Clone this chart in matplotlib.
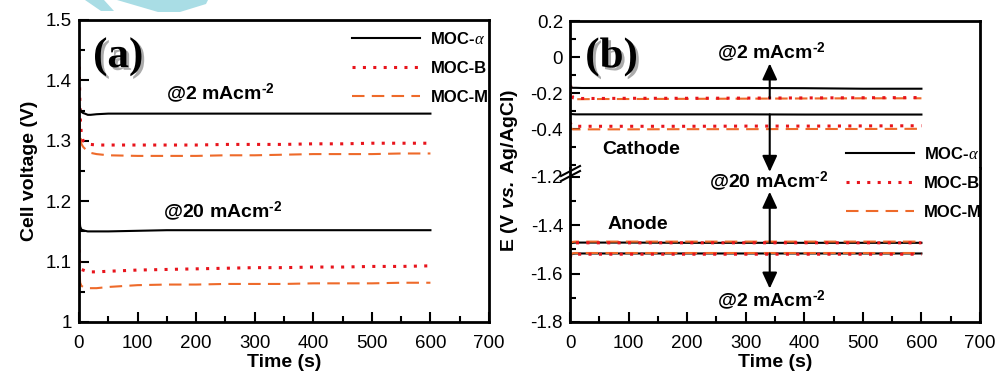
import matplotlib
matplotlib.use('Agg')
import matplotlib.pyplot as plt
import matplotlib.patheffects as pe
from matplotlib.patches import Polygon
from matplotlib.lines import Line2D
from matplotlib.ticker import MultipleLocator

plt.rcParams['font.family'] = ['Liberation Sans', 'DejaVu Sans']
plt.rcParams['mathtext.fontset'] = 'custom'
plt.rcParams['mathtext.rm'] = 'Liberation Sans'
plt.rcParams['mathtext.bf'] = 'Liberation Sans:bold'
plt.rcParams['mathtext.it'] = 'Liberation Serif:italic'
plt.rcParams['mathtext.bfit'] = 'Liberation Sans:bold:italic'

# ---- data ----
# panel (a): cell voltage
time_a = [0, 1, 2, 4, 7, 10, 15, 20, 30, 50, 100, 150, 200, 250, 300, 350, 400, 450, 500, 550, 600]
alpha_2 = [1.360, 1.357, 1.352, 1.348, 1.346, 1.345, 1.343, 1.343, 1.344, 1.345, 1.345, 1.345, 1.345,
           1.345, 1.345, 1.345, 1.345, 1.345, 1.345, 1.345, 1.345]
b_2 = [1.440, 1.390, 1.340, 1.310, 1.300, 1.298, 1.296, 1.294, 1.293, 1.293, 1.293, 1.293, 1.293,
       1.294, 1.294, 1.294, 1.295, 1.295, 1.296, 1.296, 1.296]
m_2 = [1.370, 1.340, 1.310, 1.295, 1.290, 1.287, 1.283, 1.280, 1.278, 1.276, 1.275, 1.275, 1.275,
       1.276, 1.276, 1.277, 1.278, 1.278, 1.278, 1.279, 1.279]
alpha_20 = [1.200, 1.170, 1.158, 1.153, 1.152, 1.151, 1.150, 1.150, 1.150, 1.150, 1.151, 1.152, 1.152,
            1.152, 1.152, 1.152, 1.152, 1.152, 1.152, 1.152, 1.152]
b_20 = [1.120, 1.100, 1.090, 1.087, 1.086, 1.085, 1.084, 1.083, 1.083, 1.084, 1.086, 1.087, 1.088,
        1.089, 1.090, 1.090, 1.091, 1.091, 1.092, 1.092, 1.093]
m_20 = [1.110, 1.080, 1.065, 1.060, 1.058, 1.057, 1.056, 1.056, 1.056, 1.058, 1.061, 1.062, 1.062,
        1.063, 1.063, 1.063, 1.064, 1.064, 1.064, 1.065, 1.065]

# panel (b): electrode potentials
time_b = [0, 2, 5, 10, 20, 50, 100, 200, 300, 400, 500, 600]
cat_alpha_2 = [-0.165, -0.168, -0.170, -0.170, -0.171, -0.171, -0.171, -0.171, -0.171, -0.172, -0.175, -0.175]
cat_b_2 = [-0.100, -0.200, -0.225, -0.228, -0.229, -0.229, -0.228, -0.228, -0.227, -0.226, -0.225, -0.224]
cat_m_2 = [-0.150, -0.220, -0.232, -0.233, -0.233, -0.232, -0.232, -0.231, -0.230, -0.229, -0.228, -0.228]
cat_alpha_20 = [-0.310, -0.315, -0.316, -0.317, -0.317, -0.317, -0.317, -0.317, -0.317, -0.318, -0.318, -0.318]
cat_b_20 = [-0.360, -0.375, -0.382, -0.383, -0.383, -0.383, -0.383, -0.383, -0.382, -0.382, -0.381, -0.380]
cat_m_20 = [-0.380, -0.395, -0.400, -0.400, -0.400, -0.400, -0.400, -0.399, -0.399, -0.398, -0.398, -0.397]
an_alpha_20 = [-1.490, -1.475, -1.473, -1.472, -1.472, -1.472, -1.472, -1.473, -1.473, -1.473, -1.473, -1.473]
an_b_20 = [-1.500, -1.480, -1.474, -1.473, -1.473, -1.473, -1.473, -1.473, -1.473, -1.473, -1.473, -1.473]
an_m_20 = [-1.490, -1.472, -1.469, -1.468, -1.468, -1.468, -1.468, -1.468, -1.468, -1.468, -1.468, -1.468]
an_alpha_2 = [-1.530, -1.520, -1.518, -1.517, -1.517, -1.517, -1.517, -1.517, -1.517, -1.517, -1.517, -1.517]
an_b_2 = [-1.535, -1.522, -1.520, -1.520, -1.520, -1.520, -1.520, -1.520, -1.520, -1.520, -1.520, -1.520]
an_m_2 = [-1.540, -1.520, -1.516, -1.515, -1.515, -1.515, -1.515, -1.515, -1.515, -1.515, -1.515, -1.515]

labels = ['MOC-$\\alpha$', 'MOC-B', 'MOC-M']

# ---- styles ----
BLACK = 'black'
RED = '#e8141c'
ORANGE = '#ee6a2a'
sty_alpha = dict(color=BLACK, lw=1.5, linestyle='-')
sty_b = dict(color=RED, lw=2.2, linestyle=(0, (1, 2.4)))
sty_m = dict(color=ORANGE, lw=1.5, linestyle=(0, (6, 3.5)))

TICK_FS = 13.5
LAB_FS = 14
ANN_FS = 14
LEG_FS = 12
SUP = '$^{\\mathbf{\u20102}}$'


def style_axis(ax, bottom=True):
    for s in ax.spines.values():
        s.set_linewidth(2)
    ax.tick_params(which='both', direction='in', top=False, right=False,
                   labelsize=TICK_FS, width=1.5)
    ax.tick_params(axis='y', pad=5)
    ax.tick_params(axis='x', pad=9)
    ax.tick_params(which='major', length=7)
    ax.tick_params(which='minor', length=4)
    if bottom:
        ax.set_xlim(0, 700)
        ax.xaxis.set_major_locator(MultipleLocator(100))
        ax.xaxis.set_minor_locator(MultipleLocator(50))
        ax.set_xlabel('Time (s)', fontsize=LAB_FS, fontweight='bold', labelpad=2)


fig = plt.figure(figsize=(9.99, 3.75), dpi=100)

# watermark scraps at the top edge
W, H = 999.0, 375.0
wm_color = '#a9dde5'
for pts in ([(85, 0), (104, 0), (114, 11), (101, 11)],
            [(117, 0), (208, 0), (206, 4), (180, 12), (158, 12)]):
    fig.patches.append(Polygon([(x / W, 1 - y / H) for x, y in pts], closed=True,
                               transform=fig.transFigure, facecolor=wm_color,
                               edgecolor='none', zorder=0))

# ---------------- panel (a) ----------------
ax_a = fig.add_axes([79 / W, 53 / H, 410 / W, 302 / H])
ax_a.plot(time_a, m_2, **sty_m)
ax_a.plot(time_a, b_2, **sty_b)
ax_a.plot(time_a, alpha_2, **sty_alpha)
ax_a.plot(time_a, m_20, **sty_m)
ax_a.plot(time_a, b_20, **sty_b)
ax_a.plot(time_a, alpha_20, **sty_alpha)
ax_a.set_ylim(1.0, 1.5)
ax_a.yaxis.set_minor_locator(MultipleLocator(0.05))
ax_a.set_yticks([1.0, 1.1, 1.2, 1.3, 1.4, 1.5], ['1', '1.1', '1.2', '1.3', '1.4', '1.5'])
style_axis(ax_a)
ax_a.set_ylabel('Cell voltage (V)', fontsize=LAB_FS, fontweight='bold', labelpad=6)

handles_a = [Line2D([], [], **sty_alpha), Line2D([], [], **sty_b), Line2D([], [], **sty_m)]
leg_kw = dict(frameon=False, borderpad=0, borderaxespad=0, handlelength=4.1,
              handletextpad=0.6, labelspacing=0.85, prop=dict(size=LEG_FS, weight='bold'))
ax_a.legend(handles_a, labels, loc='upper left', bbox_to_anchor=(0.666, 0.965), **leg_kw)

ax_a.text(242, 1.379, '@2 mAcm' + SUP, fontsize=ANN_FS, fontweight='bold',
          ha='center', va='center')
ax_a.text(245, 1.184, '@20 mAcm' + SUP, fontsize=ANN_FS, fontweight='bold',
          ha='center', va='center')

shadow = [pe.SimplePatchShadow(offset=(2, -2), shadow_rgbFace='#888888', alpha=0.7), pe.Normal()]
ax_a.text(67, 1.439, '(a)', family='Liberation Serif', fontsize=31, fontweight='bold',
          ha='center', va='center', path_effects=shadow)

# ---------------- panel (b) (broken y axis) ----------------
ax_up = fig.add_axes([570 / W, (H - 168) / H, 410 / W, 147 / H])
ax_lo = fig.add_axes([570 / W, 53 / H, 410 / W, 154 / H])

for ax, curves in ((ax_up, [(cat_m_2, sty_m), (cat_b_2, sty_b), (cat_alpha_2, sty_alpha),
                            (cat_m_20, sty_m), (cat_b_20, sty_b), (cat_alpha_20, sty_alpha)]),
                   (ax_lo, [(an_alpha_20, sty_alpha), (an_m_20, sty_m), (an_b_20, sty_b),
                            (an_alpha_2, sty_alpha), (an_m_2, sty_m), (an_b_2, sty_b)])):
    for vals, st in curves:
        ax.plot(time_b, vals, **st)

ax_up.set_ylim(-0.614, 0.2)
ax_up.set_yticks([-0.4, -0.2, 0.0, 0.2], ['-0.4', '-0.2', '0', '0.2'])
ax_up.yaxis.set_minor_locator(MultipleLocator(0.1))
style_axis(ax_up, bottom=False)
ax_up.set_xlim(0, 700)
ax_up.tick_params(which='both', bottom=False, labelbottom=False)
ax_up.spines['bottom'].set_visible(False)

ax_lo.set_ylim(-1.8, -1.164)
ax_lo.set_yticks([-1.8, -1.6, -1.4, -1.2], ['-1.8', '-1.6', '-1.4', '-1.2'])
ax_lo.yaxis.set_minor_locator(MultipleLocator(0.1))
style_axis(ax_lo)
ax_lo.spines['top'].set_visible(False)

fig.text(510 / W, 1 - 170 / H, 'E (V $\\mathbfit{vs.}$ Ag/AgCl)', rotation=90,
         fontsize=LAB_FS, fontweight='bold', ha='center', va='center')

# break marks on the left spine
for dy in (0, 5):
    fig.add_artist(Line2D([561 / W, 580 / W], [1 - (176 + dy) / H, 1 - (166 + dy) / H],
                          transform=fig.transFigure, color='black', lw=1.5))

fig.legend(handles_a, labels, loc='upper left', bbox_to_anchor=(846 / W, 1 - 146 / H), **leg_kw)

arrow = dict(arrowstyle='-|>,head_length=0.65,head_width=0.3', color='black', lw=1.5,
             mutation_scale=15, shrinkA=0, shrinkB=0)
ax_up.annotate('', xy=(341, -0.035), xytext=(341, -0.228), arrowprops=arrow,
               annotation_clip=False)
ax_lo.annotate('', xy=(341, -1.18), xytext=(341, -0.317), textcoords=ax_up.transData,
               arrowprops=arrow, annotation_clip=False)
ax_lo.annotate('', xy=(341, -1.262), xytext=(341, -1.474), arrowprops=arrow,
               annotation_clip=False)
ax_lo.annotate('', xy=(341, -1.662), xytext=(341, -1.517), arrowprops=arrow,
               annotation_clip=False)

ax_up.text(343, 0.029, '@2 mAcm' + SUP, fontsize=ANN_FS, fontweight='bold',
           ha='center', va='center')
ax_lo.text(340, -1.218, '@20 mAcm' + SUP, fontsize=ANN_FS, fontweight='bold',
           ha='center', va='center')
ax_lo.text(343, -1.71, '@2 mAcm' + SUP, fontsize=ANN_FS, fontweight='bold',
           ha='center', va='center')
ax_up.text(121, -0.509, 'Cathode', fontsize=ANN_FS, fontweight='bold', ha='center', va='center')
ax_lo.text(115, -1.396, 'Anode', fontsize=ANN_FS, fontweight='bold', ha='center', va='center')
ax_up.text(71, 0.0, '(b)', family='Liberation Serif', fontsize=31, fontweight='bold',
           ha='center', va='center', path_effects=shadow)

fig.savefig('out.png', dpi=100)
